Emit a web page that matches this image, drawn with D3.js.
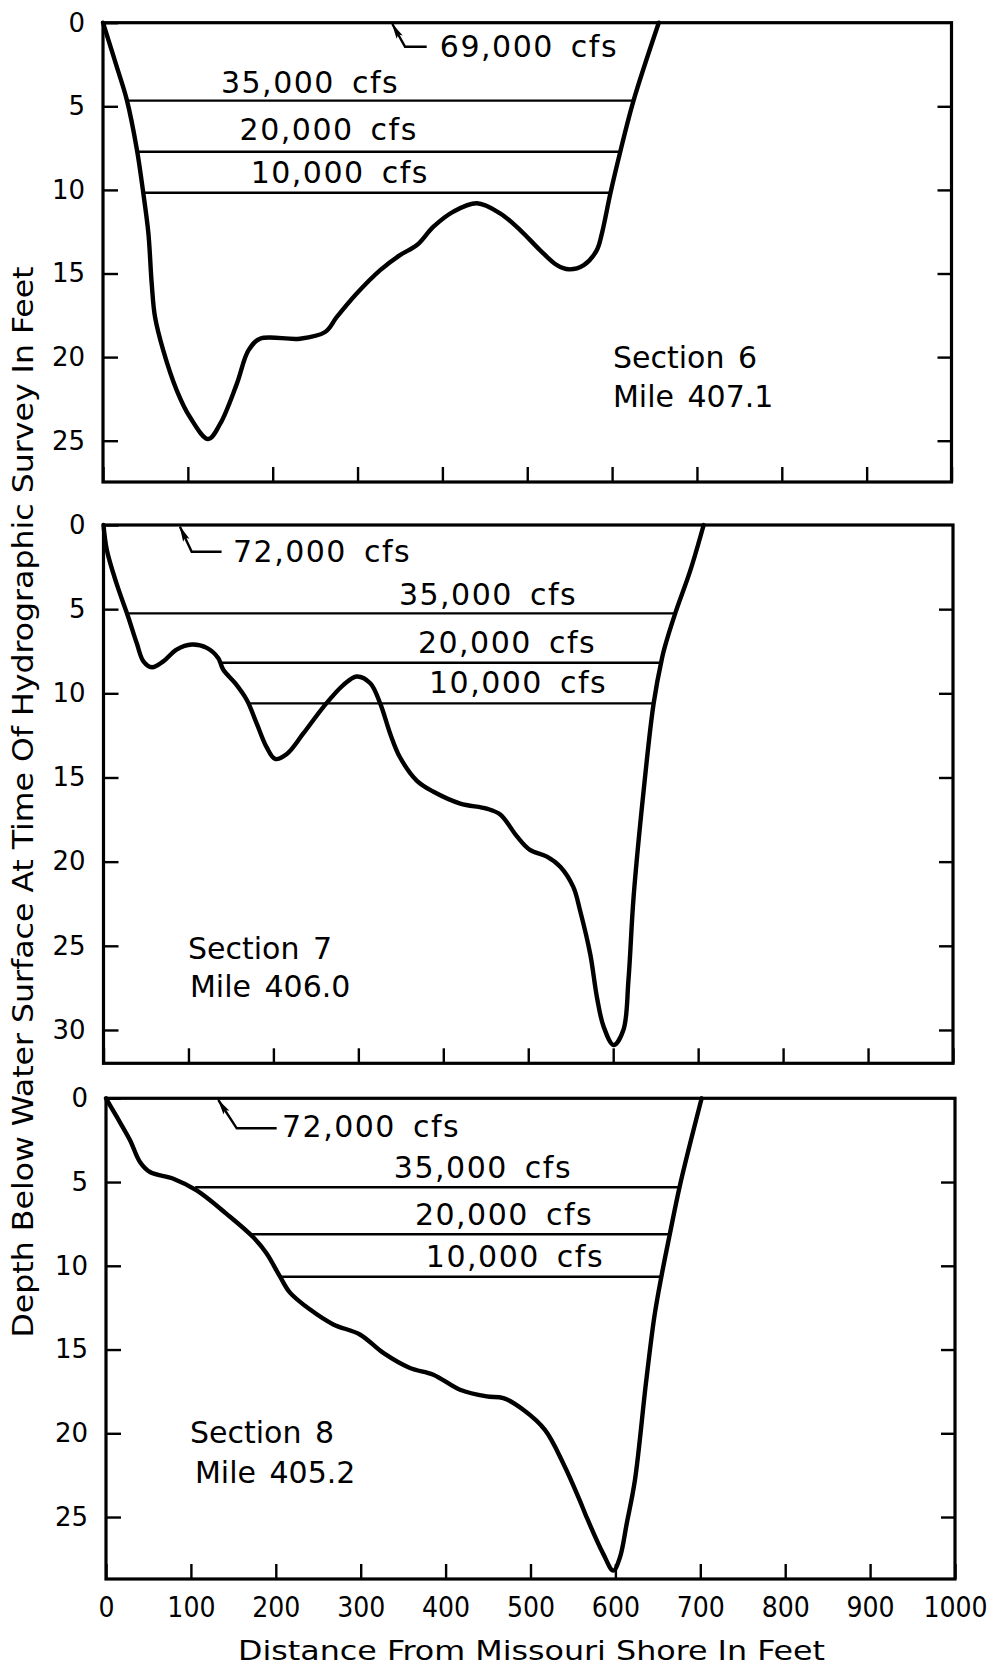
<!DOCTYPE html>
<html>
<head>
<meta charset="utf-8">
<script src="https://cdn.jsdelivr.net/npm/d3@7"></script>
<style>
  html, body { margin: 0; padding: 0; background: #fff; }
  svg { display: block; }
  text { fill: #000; }
</style>
</head>
<body>
<svg id="chart" width="995" height="1669"></svg>
<script>
// ---- Bed profiles: distance from Missouri shore (ft) and depth below water surface (ft) ----
const section6Dist  = [0, 16, 28, 40, 47.5, 53.5, 57.4, 61.3, 71, 87, 102.6, 124, 138, 157.7, 171.4, 185, 232, 261.8, 275.6, 299, 326.7, 350, 370, 389.5, 413, 440.6, 468, 491.7, 515, 535, 549, 566.6, 582, 588, 598, 609.7, 625, 655];
const section6Depth = [0, 2.6, 4.6, 7.6, 10.2, 12.6, 15.6, 17.6, 19.6, 22, 23.6, 24.9, 24, 21.6, 19.6, 18.9, 18.9, 18.5, 17.6, 16.2, 14.8, 13.9, 13.3, 12.2, 11.3, 10.8, 11.4, 12.4, 13.6, 14.5, 14.75, 14.5, 13.6, 12.6, 10.2, 7.7, 4.7, 0];

const section7Dist  = [0, 4, 15.5, 29, 39, 47, 57, 70.4, 86, 104, 121.6, 135, 141, 155, 168.7, 180.4, 192, 202, 215.8, 235, 259, 282.5, 298, 314, 325.7, 337.5, 349, 369, 388.5, 420, 451, 467, 486.7, 502, 522, 537.7, 553, 561, 573, 581, 588.7, 600.5, 612, 618, 624, 636, 647.6, 657.5, 661, 673, 690.8, 706.5];
const section7Depth = [0, 1.5, 3.5, 5.45, 7.0, 8.1, 8.45, 8.1, 7.4, 7.1, 7.3, 7.9, 8.6, 9.4, 10.4, 11.8, 13.2, 13.9, 13.6, 12.4, 10.8, 9.5, 9.0, 9.4, 10.6, 12.4, 13.8, 15.2, 15.85, 16.55, 16.85, 17.2, 18.5, 19.3, 19.7, 20.3, 21.5, 22.9, 25.5, 28.1, 29.8, 30.9, 30.0, 27.0, 22.1, 15.7, 10.6, 7.9, 7.2, 5.25, 2.7, 0];

const section8Dist  = [0, 12.6, 28.3, 40, 51.8, 79.3, 106.8, 142, 173.5, 189, 205, 216.7, 240, 267.7, 299, 326.6, 358, 385.5, 417, 448.4, 468, 491.5, 517, 538.6, 558, 566, 585.7, 597.5, 605.4, 613.3, 623, 636, 646, 654.5, 664.3, 676, 701.6];
const section8Depth = [0, 1.1, 2.5, 3.8, 4.4, 4.8, 5.5, 6.9, 8.3, 9.25, 10.65, 11.6, 12.6, 13.5, 14.1, 15.2, 16.1, 16.5, 17.4, 17.8, 17.9, 18.6, 19.8, 21.8, 24.0, 25.0, 27.2, 28.2, 27.4, 25.4, 22.8, 17.0, 13.0, 10.55, 8.06, 5.2, 0];

// ---- Water surfaces for lower discharges: depth below flood surface and bank-to-bank extent (ft) ----
const flowLabels = ["35,000 cfs", "20,000 cfs", "10,000 cfs"];
const section6LevelDepth = [4.66, 7.72, 10.17];
const section6LevelFrom  = [29, 39, 47];
const section6LevelTo    = [626, 609, 597];
const section7LevelDepth = [5.25, 8.18, 10.6];
const section7LevelFrom  = [28.8, 139.5, 170];
const section7LevelTo    = [671.5, 655.8, 646.8];
const section8LevelDepth = [5.31, 8.12, 10.65];
const section8LevelFrom  = [105, 172, 205];
const section8LevelTo    = [676, 664, 655];

const floodLabels   = ["69,000 cfs", "72,000 cfs", "72,000 cfs"];
const sectionNames  = ["Section 6", "Section 7", "Section 8"];
const mileNames     = ["Mile 407.1", "Mile 406.0", "Mile 405.2"];

const xTicks  = [0, 100, 200, 300, 400, 500, 600, 700, 800, 900, 1000];
const yTicks6 = [0, 5, 10, 15, 20, 25];
const yTicks7 = [0, 5, 10, 15, 20, 25, 30];
const yTicks8 = [0, 5, 10, 15, 20, 25];

const xTitle = "Distance From Missouri Shore In Feet";
const yTitle = "Depth Below Water Surface At Time Of Hydrographic Survey In Feet";

// ---- Layout of the three stacked panels ----
const panels = [
  { dist: section6Dist, depth: section6Depth, lvD: section6LevelDepth, lvA: section6LevelFrom, lvB: section6LevelTo,
    ticks: yTicks6, yMax: 27.47, top: 22.7, bottom: 482, left: 103, right: 951.5,
    flood: { tip: [341, 0.08], elbow: [356, 1.44], end: [381.5, 1.44], text: [397, 2.05] },
    flowPos: [[244, 4.2], [266, 7.02], [279, 9.59]],
    secPos: [[601, 20.65], [601, 22.98]] },
  { dist: section7Dist, depth: section7Depth, lvD: section7LevelDepth, lvA: section7LevelFrom, lvB: section7LevelTo,
    ticks: yTicks7, yMax: 31.98, top: 525, bottom: 1063.3, left: 103.5, right: 953,
    flood: { tip: [90, 0.1], elbow: [103.8, 1.59], end: [139, 1.59], text: [152.4, 2.2] },
    flowPos: [[452.6, 4.75], [475, 7.6], [488, 9.98]],
    secPos: [[99.5, 25.78], [101.8, 28.04]] },
  { dist: section8Dist, depth: section8Depth, lvD: section8LevelDepth, lvA: section8LevelFrom, lvB: section8LevelTo,
    ticks: yTicks8, yMax: 28.7, top: 1098.3, bottom: 1579, left: 106, right: 955,
    flood: { tip: [132.3, 0.1], elbow: [154, 1.79], end: [201, 1.79], text: [207.3, 2.29] },
    flowPos: [[444, 4.76], [468.8, 7.57], [481.7, 10.07]],
    secPos: [[98.9, 20.58], [104.8, 22.97]] }
];

const FONT = "'DejaVu Sans', 'Liberation Sans', sans-serif";
const NARROW = "'DejaVu Sans Condensed', 'Liberation Sans Narrow', 'DejaVu Sans', sans-serif";

const svg = d3.select("#chart");

// arrowhead for the flood-stage leaders
svg.append("defs").append("marker")
  .attr("id", "arrowhead")
  .attr("viewBox", "0 0 16 10")
  .attr("refX", 15).attr("refY", 5)
  .attr("markerWidth", 16).attr("markerHeight", 10)
  .attr("markerUnits", "userSpaceOnUse")
  .attr("orient", "auto")
  .append("path")
  .attr("d", "M0,1.5 L16,5 L0,8.5 L3,5 Z")
  .attr("fill", "#000");

panels.forEach((p, i) => {
  const x = d3.scaleLinear().domain([0, 1000]).range([p.left, p.right]);
  const y = d3.scaleLinear().domain([0, p.yMax]).range([p.top, p.bottom]);
  const g = svg.append("g");
  const last = i === panels.length - 1;

  // left axis: inward ticks, labels
  g.append("g")
    .attr("transform", `translate(${p.left},0)`)
    .call(d3.axisLeft(y).tickValues(p.ticks).tickSize(-15).tickPadding(18).tickFormat(d3.format("d")))
    .call(a => a.select(".domain").remove())
    .call(a => a.selectAll("line").attr("stroke", "#000").attr("stroke-width", 2.4))
    .call(a => a.selectAll("text").attr("font-family", FONT).attr("font-size", 26).attr("fill", "#000"));

  // right axis: inward ticks only
  g.append("g")
    .attr("transform", `translate(${p.right},0)`)
    .call(d3.axisRight(y).tickValues(p.ticks.filter(t => t > 0)).tickSize(-14).tickFormat(""))
    .call(a => a.select(".domain").remove())
    .call(a => a.selectAll("line").attr("stroke", "#000").attr("stroke-width", 2.4));

  // bottom axis: inward ticks, labels on the lowest panel
  g.append("g")
    .attr("transform", `translate(0,${p.bottom})`)
    .call(d3.axisBottom(x).tickValues(xTicks).tickSize(-15).tickPadding(18)
      .tickFormat(last ? d3.format("d") : ""))
    .call(a => a.select(".domain").remove())
    .call(a => a.selectAll("line").attr("stroke", "#000").attr("stroke-width", 2.4))
    .call(a => a.selectAll("text").attr("font-family", NARROW).attr("font-size", 28).attr("fill", "#000"));

  // frame (top edge doubles as the flood water surface)
  g.append("rect")
    .attr("x", p.left).attr("y", p.top)
    .attr("width", p.right - p.left).attr("height", p.bottom - p.top)
    .attr("fill", "none").attr("stroke", "#000").attr("stroke-width", 3.2);

  // water surfaces at lower discharges
  g.selectAll("line.level")
    .data(p.lvD.map((d, k) => ({ d, a: p.lvA[k], b: p.lvB[k] })))
    .join("line")
    .attr("class", "level")
    .attr("x1", d => x(d.a)).attr("x2", d => x(d.b))
    .attr("y1", d => y(d.d)).attr("y2", d => y(d.d))
    .attr("stroke", "#000").attr("stroke-width", 2.4);

  // discharge labels
  g.selectAll("text.flow")
    .data(flowLabels.map((t, k) => ({ t, pos: p.flowPos[k] })))
    .join("text")
    .attr("class", "flow")
    .attr("x", d => x(d.pos[0])).attr("y", d => y(d.pos[1]))
    .attr("text-anchor", "middle")
    .attr("font-family", FONT).attr("font-size", 30)
    .attr("letter-spacing", 1.5).attr("word-spacing", 6)
    .text(d => d.t);

  // flood discharge leader and label
  const f = p.flood;
  g.append("path")
    .attr("d", d3.line()([[x(f.end[0]), y(f.end[1])], [x(f.elbow[0]), y(f.elbow[1])], [x(f.tip[0]), y(f.tip[1])]]))
    .attr("fill", "none").attr("stroke", "#000").attr("stroke-width", 2.4)
    .attr("marker-end", "url(#arrowhead)");
  g.append("text")
    .attr("x", x(f.text[0])).attr("y", y(f.text[1]))
    .attr("font-family", FONT).attr("font-size", 30)
    .attr("letter-spacing", 1.5).attr("word-spacing", 6)
    .text(floodLabels[i]);

  // channel bed profile
  const pts = p.dist.map((d, k) => [d, p.depth[k]]);
  g.append("path")
    .datum(pts)
    .attr("d", d3.line().x(d => x(d[0])).y(d => y(d[1])).curve(d3.curveCatmullRom.alpha(0.5)))
    .attr("fill", "none").attr("stroke", "#000").attr("stroke-width", 4.4)
    .attr("stroke-linejoin", "round").attr("stroke-linecap", "round");

  // section / river mile caption
  g.selectAll("text.sec")
    .data([sectionNames[i], mileNames[i]])
    .join("text")
    .attr("class", "sec")
    .attr("x", (d, k) => x(p.secPos[k][0])).attr("y", (d, k) => y(p.secPos[k][1]))
    .attr("font-family", FONT).attr("font-size", 30)
    .attr("word-spacing", 4)
    .text(d => d);
});

// axis titles
svg.append("text")
  .attr("transform", "translate(33,802) rotate(-90)")
  .attr("text-anchor", "middle")
  .attr("font-family", NARROW).attr("font-size", 28)
  .attr("textLength", 1071).attr("lengthAdjust", "spacingAndGlyphs")
  .text(yTitle);

svg.append("text")
  .attr("x", 531.5).attr("y", 1660)
  .attr("text-anchor", "middle")
  .attr("font-family", NARROW).attr("font-size", 27)
  .attr("textLength", 587).attr("lengthAdjust", "spacingAndGlyphs")
  .text(xTitle);
</script>
</body>
</html>
